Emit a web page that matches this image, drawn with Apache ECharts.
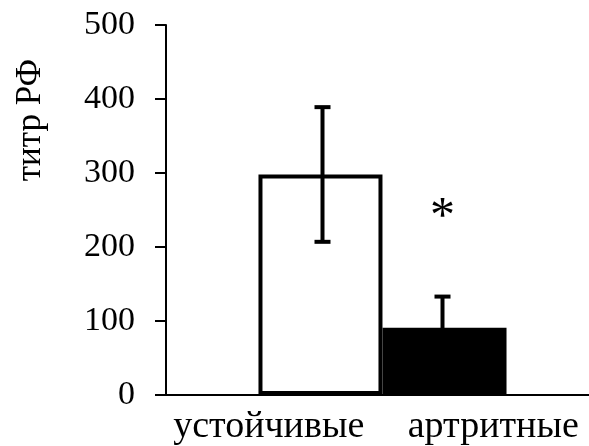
<!DOCTYPE html>
<html>
<head>
<meta charset="utf-8">
<script src="https://cdn.jsdelivr.net/npm/echarts@6/dist/echarts.min.js"></script>
<style>
  html, body { margin: 0; padding: 0; background: #fff; }
  #chart { width: 589px; height: 446px; }
</style>
</head>
<body>
<div id="chart"></div>
<script>
var categories = ['устойчивые', 'артритные'];
var means = [298, 91];
var errors = [91, 42];
var significance = ['', '*'];
var yTicks = [0, 100, 200, 300, 400, 500];
var yAxisName = 'титр РФ';

var FONT = '"Liberation Serif", "Times New Roman", serif';
var chart = echarts.init(document.getElementById('chart'));

var whiteData = means.map(function (v, i) { return i === 0 ? v : '-'; });
var blackData = means.map(function (v, i) { return i === 1 ? v : '-'; });
var errData = means.map(function (v, i) { return [i, v, errors[i]]; });

var yMin = yTicks[0], yMax = yTicks[yTicks.length - 1], yStep = yTicks[1] - yTicks[0];

chart.setOption({
  backgroundColor: '#ffffff',
  animation: false,
  grid: [
    { left: 166, right: 0, top: 25, bottom: 51, containLabel: false },
    { left: 176, right: 0, top: 25, bottom: 51, containLabel: false }
  ],
  xAxis: [
    {
      gridIndex: 0,
      type: 'category',
      data: categories,
      axisLine: { lineStyle: { color: '#000', width: 2 } },
      axisTick: { show: false },
      axisLabel: {
        interval: 0,
        hideOverlap: false,
        margin: 13,
        formatter: function (v, i) { return '{c' + i + '|' + v + '}'; },
        rich: {
          c0: { color: '#000', fontFamily: FONT, fontSize: 38, padding: [0, 6, 0, 0] },
          c1: { color: '#000', fontFamily: FONT, fontSize: 38, padding: [0, 0, 0, 20] }
        }
      }
    },
    {
      gridIndex: 1,
      type: 'category',
      data: categories,
      show: false
    }
  ],
  yAxis: [
    {
      gridIndex: 0,
      type: 'value',
      min: yMin,
      max: yMax,
      interval: yStep,
      name: yAxisName,
      nameLocation: 'middle',
      nameRotate: 90,
      nameGap: 118,
      nameTextStyle: { color: '#000', fontFamily: FONT, fontSize: 35, padding: [0, 0, 0, 180] },
      axisLine: { show: true, lineStyle: { color: '#000', width: 2 } },
      axisTick: { show: true, inside: false, length: 11, lineStyle: { color: '#000', width: 2 } },
      splitLine: { show: false },
      axisLabel: { color: '#000', fontFamily: FONT, fontSize: 34, margin: 31 }
    },
    {
      gridIndex: 1,
      type: 'value',
      min: yMin,
      max: yMax,
      interval: yStep,
      show: false,
      splitLine: { show: false }
    }
  ],
  series: [
    {
      type: 'bar',
      xAxisIndex: 1,
      yAxisIndex: 1,
      data: whiteData,
      barWidth: 124,
      barGap: '-166.5%',
      itemStyle: { color: '#fff', borderColor: '#000', borderWidth: 4 },
      z: 2
    },
    {
      type: 'bar',
      xAxisIndex: 1,
      yAxisIndex: 1,
      data: blackData,
      barWidth: 124,
      itemStyle: { color: '#000' },
      z: 2
    },
    {
      type: 'custom',
      xAxisIndex: 1,
      yAxisIndex: 1,
      data: errData,
      encode: { x: 0, y: 1 },
      z: 5,
      renderItem: function (params, api) {
        var idx = api.value(0);
        var mean = api.value(1);
        var err = api.value(2);
        var mark = significance[idx];
        var bw = api.size([1, 0])[0];
        var c = api.coord([idx, mean]);
        var x = c[0] + (idx === 0 ? 1 : -1) * (bw / 2 - 60);
        var top = api.coord([idx, mean + err])[1];
        var bot = api.coord([idx, mean - err])[1];
        var half = 8;
        var ls = { stroke: '#000', lineWidth: 4 };
        var children = [
          { type: 'line', shape: { x1: x, y1: top, x2: x, y2: bot }, style: ls },
          { type: 'line', shape: { x1: x - half, y1: top, x2: x + half, y2: top }, style: ls },
          { type: 'line', shape: { x1: x - half, y1: bot, x2: x + half, y2: bot }, style: ls }
        ];
        if (mark) {
          children.push({
            type: 'text',
            style: { x: x, y: top - 79, text: mark, fill: '#000', font: '50px ' + FONT, align: 'center', verticalAlign: 'middle' }
          });
        }
        return { type: 'group', children: children };
      }
    }
  ]
});
</script>
</body>
</html>
